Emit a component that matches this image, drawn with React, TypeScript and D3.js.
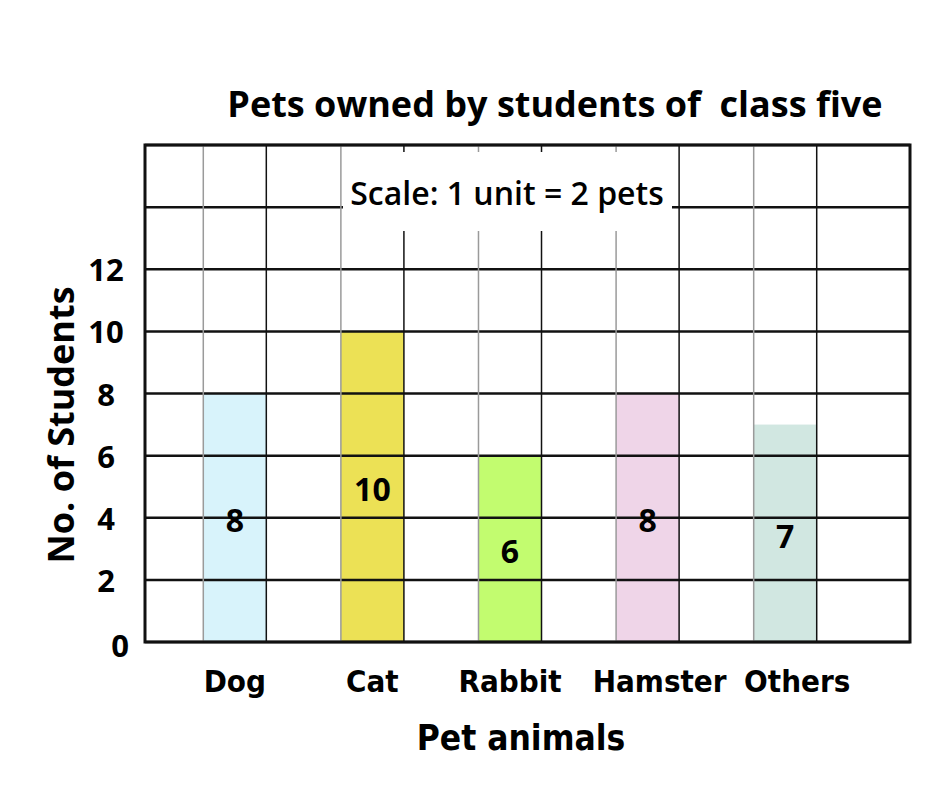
import { useEffect, useRef } from 'react';
import * as d3 from 'd3';

const pets = ['Dog', 'Cat', 'Rabbit', 'Hamster', 'Others'];
const students = [8, 10, 6, 8, 7];
const barColors = ['#d8f3fb', '#ece155', '#c2fc6f', '#efd5e8', '#d1e7e1'];
const yTicks = [0, 2, 4, 6, 8, 10, 12];
const gridValues = [0, 2, 4, 6, 8, 10, 12, 14, 16];

const title = 'Pets owned by students of\u00a0 class five';
const scaleNote = 'Scale: 1 unit = 2 pets';
const xTitle = 'Pet animals';
const yTitle = 'No. of Students';

export default function App() {
  const svgRef = useRef<SVGSVGElement | null>(null);

  useEffect(() => {
    if (!svgRef.current) return;
    const svg = d3.select(svgRef.current);
    svg.selectAll('*').remove();

    const width = 940;
    const height = 788;
    const frame = { left: 145, right: 910, top: 145, bottom: 642 };

    const x = d3
      .scaleBand()
      .domain(pets)
      .range([166, 854])
      .paddingInner(0.542)
      .paddingOuter(0.271);

    const y = d3
      .scaleLinear()
      .domain([0, 16])
      .range([frame.bottom, frame.top]);

    svg.attr('width', width).attr('height', height);

    svg.append('rect').attr('width', width).attr('height', height).attr('fill', '#fff');

    // bars
    svg
      .append('g')
      .selectAll('rect')
      .data(students)
      .join('rect')
      .attr('x', (_, i) => x(pets[i])!)
      .attr('y', d => y(d))
      .attr('width', x.bandwidth())
      .attr('height', d => y(0) - y(d))
      .attr('fill', (_, i) => barColors[i]);

    // horizontal grid
    svg
      .append('g')
      .selectAll('line')
      .data(gridValues)
      .join('line')
      .attr('x1', frame.left)
      .attr('x2', frame.right)
      .attr('y1', d => y(d))
      .attr('y2', d => y(d))
      .attr('stroke', '#111')
      .attr('stroke-width', 2.5);

    // vertical column lines at bar edges
    const cols = svg.append('g');
    pets.forEach(p => {
      const x0 = x(p)!;
      cols
        .append('line')
        .attr('x1', x0).attr('x2', x0)
        .attr('y1', frame.top).attr('y2', frame.bottom)
        .attr('stroke', '#9a9a9a').attr('stroke-width', 1.5);
      cols
        .append('line')
        .attr('x1', x0 + x.bandwidth()).attr('x2', x0 + x.bandwidth())
        .attr('y1', frame.top).attr('y2', frame.bottom)
        .attr('stroke', '#111').attr('stroke-width', 1.5);
    });

    // frame
    svg
      .append('rect')
      .attr('x', frame.left)
      .attr('y', frame.top)
      .attr('width', frame.right - frame.left)
      .attr('height', frame.bottom - frame.top)
      .attr('fill', 'none')
      .attr('stroke', '#111')
      .attr('stroke-width', 3);

    // scale note box
    svg
      .append('rect')
      .attr('x', 343)
      .attr('y', 152)
      .attr('width', 329)
      .attr('height', 79)
      .attr('fill', '#fff');
    svg
      .append('text')
      .attr('x', 507)
      .attr('y', 192)
      .attr('text-anchor', 'middle')
      .attr('dominant-baseline', 'central')
      .style('font-family', '"Open Sans", sans-serif')
      .style('font-weight', 600)
      .style('font-size', '32px')
      .text(scaleNote);

    // bar values
    svg
      .append('g')
      .selectAll('text')
      .data(students)
      .join('text')
      .attr('x', (_, i) => x(pets[i])! + x.bandwidth() / 2)
      .attr('y', d => (y(d) + y(0)) / 2 + 2)
      .attr('text-anchor', 'middle')
      .attr('dominant-baseline', 'central')
      .style('font-family', '"Open Sans", sans-serif')
      .style('font-weight', 700)
      .style('font-size', '32px')
      .text(d => d);

    // y tick labels
    svg
      .append('g')
      .selectAll('text')
      .data(yTicks)
      .join('text')
      .attr('x', d => (d === 0 ? 120 : 106))
      .attr('y', d => y(d) + (d === 0 ? 3 : 0))
      .attr('text-anchor', 'middle')
      .attr('dominant-baseline', 'central')
      .style('font-family', '"Open Sans", sans-serif')
      .style('font-weight', 700)
      .style('font-size', '31px')
      .text(d => d);

    // x labels
    svg
      .append('g')
      .selectAll('text')
      .data(pets)
      .join('text')
      .attr('x', d => x(d)! + x.bandwidth() / 2 + (pets.indexOf(d) > 2 ? 12 : 0))
      .attr('y', 681)
      .attr('text-anchor', 'middle')
      .attr('dominant-baseline', 'central')
      .style('font-family', '"Liberation Sans Narrow", "DejaVu Sans Condensed", sans-serif')
      .style('font-weight', 700)
      .style('font-size', '31px')
      .text(d => d);

    // titles
    svg
      .append('text')
      .attr('x', 555)
      .attr('y', 103)
      .attr('text-anchor', 'middle')
      .attr('dominant-baseline', 'central')
      .style('font-family', '"Open Sans", sans-serif')
      .style('font-weight', 700)
      .style('font-size', '36px')
      .text(title);

    svg
      .append('text')
      .attr('x', 521)
      .attr('y', 738)
      .attr('text-anchor', 'middle')
      .attr('dominant-baseline', 'central')
      .style('font-family', '"Liberation Sans Narrow", "DejaVu Sans Condensed", sans-serif')
      .style('font-weight', 700)
      .style('font-size', '35px')
      .text(xTitle);

    svg
      .append('text')
      .attr('transform', 'translate(60,425) rotate(-90)')
      .attr('text-anchor', 'middle')
      .attr('dominant-baseline', 'central')
      .style('font-family', '"Open Sans", sans-serif')
      .style('font-weight', 700)
      .style('font-size', '36px')
      .text(yTitle);
  }, []);

  return (
    <svg
      ref={svgRef}
      width={940}
      height={788}
      style={{ position: 'absolute', left: 0, top: 0, display: 'block' }}
    />
  );
}
